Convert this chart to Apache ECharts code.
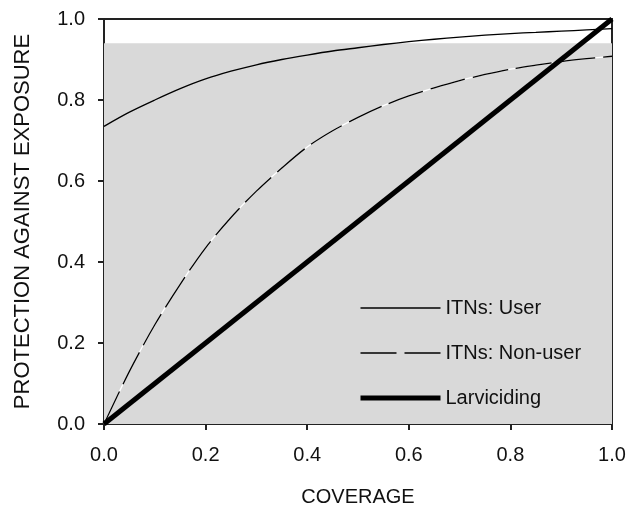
<!DOCTYPE html>
<html>
<head>
<meta charset="utf-8">
<script src="https://cdn.jsdelivr.net/npm/echarts@6/dist/echarts.min.js"></script>
<style>
html,body{margin:0;padding:0;background:#fff;}
#chart{width:627px;height:508px;}
</style>
</head>
<body>
<div id="chart"></div>
<script>
// Data
var coverage = [0, 0.05, 0.1, 0.15, 0.2, 0.25, 0.3, 0.35, 0.4, 0.45, 0.5, 0.55, 0.6, 0.65, 0.7, 0.75, 0.8, 0.85, 0.9, 0.95, 1.0];
var itnUser = [0.735, 0.77, 0.80, 0.828, 0.852, 0.871, 0.887, 0.90, 0.911, 0.921, 0.929, 0.937, 0.944, 0.95, 0.955, 0.96, 0.964, 0.967, 0.970, 0.973, 0.976];
var itnNonUser = [0, 0.13, 0.245, 0.345, 0.435, 0.51, 0.575, 0.632, 0.684, 0.724, 0.757, 0.786, 0.81, 0.83, 0.848, 0.863, 0.876, 0.886, 0.895, 0.902, 0.908];
var larvCoverage = [0, 1];
var larviciding = [0, 1];
var shadeTop = 0.94;
var names = ['ITNs: User', 'ITNs: Non-user', 'Larviciding'];

function pairs(xs, ys) { return xs.map(function (x, i) { return [x, ys[i]]; }); }

var font = 'Liberation Sans, Arial, sans-serif';
var chart = echarts.init(document.getElementById('chart'));
chart.setOption({
  animation: false,
  backgroundColor: '#fff',
  grid: {
    left: 104, right: 15, top: 19, bottom: 84,
    outerBoundsMode: 'none', containLabel: false,
    show: true, backgroundColor: '#fff', borderColor: '#222', borderWidth: 2
  },
  legend: {
    data: [
      { name: names[0], itemStyle: { opacity: 0 }, lineStyle: { color: '#000', width: 1.3 } },
      { name: names[1], itemStyle: { opacity: 0 }, lineStyle: { color: '#000', width: 1.3, type: [36, 8] } },
      { name: names[2], itemStyle: { opacity: 0 }, lineStyle: { color: '#000', width: 5 } }
    ],
    orient: 'vertical',
    left: 358, top: 298, padding: 0,
    itemWidth: 80, itemHeight: 14, itemGap: 25,
    textStyle: { fontFamily: font, fontSize: 20, color: '#111' }
  },
  xAxis: {
    type: 'value', min: 0, max: 1, interval: 0.2,
    name: 'COVERAGE', nameLocation: 'middle', nameGap: 63,
    nameTextStyle: { fontFamily: font, fontSize: 20, color: '#111' },
    axisLine: { lineStyle: { color: '#222', width: 2 } },
    axisTick: { show: true, length: 6, lineStyle: { color: '#222', width: 2 } },
    axisLabel: { fontFamily: font, fontSize: 20, color: '#111', margin: 21,
      formatter: function (v) { return v.toFixed(1); } },
    splitLine: { show: false }
  },
  yAxis: {
    type: 'value', min: 0, max: 1, interval: 0.2,
    name: 'PROTECTION AGAINST EXPOSURE', nameLocation: 'middle', nameGap: 70,
    nameTextStyle: { fontFamily: font, fontSize: 22, color: '#111' },
    axisLine: { lineStyle: { color: '#222', width: 2 } },
    axisTick: { show: true, length: 6, lineStyle: { color: '#222', width: 2 } },
    axisLabel: { fontFamily: font, fontSize: 20, color: '#111', margin: 19,
      formatter: function (v) { return v.toFixed(1); } },
    splitLine: { show: false }
  },
  series: [
    {
      name: 'shade', type: 'line', data: [], silent: true,
      markArea: {
        silent: true,
        itemStyle: { color: '#d9d9d9' },
        data: [[{ coord: [0, 0] }, { coord: [1, shadeTop] }]]
      }
    },
    {
      name: 'nonUserBase', type: 'line', data: pairs(coverage, itnNonUser),
      symbol: 'none', smooth: 0.3, silent: true,
      lineStyle: { color: '#fff', width: 1.3 }
    },
    {
      name: names[0], type: 'line', data: pairs(coverage, itnUser),
      symbol: 'none', smooth: 0.3,
      color: '#000', lineStyle: { color: '#000', width: 1.3 }
    },
    {
      name: names[1], type: 'line', data: pairs(coverage, itnNonUser),
      symbol: 'none', smooth: 0.3,
      color: '#000', lineStyle: { color: '#000', width: 1.3, type: [36, 8] }
    },
    {
      name: names[2], type: 'line', data: pairs(larvCoverage, larviciding),
      symbol: 'none',
      color: '#000', lineStyle: { color: '#000', width: 5 }
    }
  ]
});
</script>
</body>
</html>
